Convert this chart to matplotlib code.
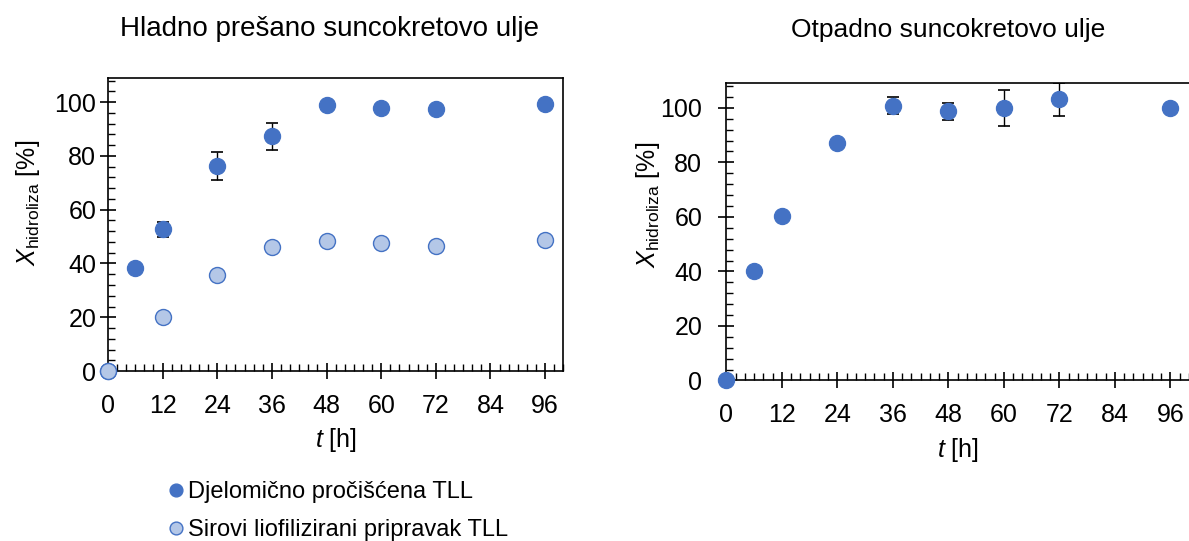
import numpy as np
import matplotlib.pyplot as plt
from matplotlib.ticker import MultipleLocator

plt.rcParams['font.family'] = ['Liberation Sans', 'DejaVu Sans']
plt.rcParams['mathtext.fontset'] = 'custom'
plt.rcParams['mathtext.rm'] = 'Liberation Sans'
plt.rcParams['mathtext.it'] = 'Liberation Sans:italic'

#%% podaci
t_lijevo = [0, 6, 12, 24, 36, 48, 60, 72, 96]
djelomicno = [0, 38.5, 52.8, 76.2, 87.4, 98.8, 97.7, 97.6, 99.5]
djelomicno_err = [0, 0, 2.8, 5.1, 5.0, 0, 0, 0, 0]

t_sirovi = [0, 12, 24, 36, 48, 60, 72, 96]
sirovi = [0, 20.0, 35.6, 46.0, 48.3, 47.5, 46.4, 48.8]

t_desno = [0, 6, 12, 24, 36, 48, 60, 72, 96]
otpadno = [0, 40.2, 60.3, 87.0, 100.7, 98.8, 100.0, 103.1, 100.0]
otpadno_err = [0, 0, 0, 0, 3.1, 3.1, 6.5, 6.0, 0]

x_ticks = [0, 12, 24, 36, 48, 60, 72, 84, 96]
y_ticks = [0, 20, 40, 60, 80, 100]

tamna = '#4472C4'
svijetla = '#B4C7E7'

fig = plt.figure(figsize=(11.89, 5.41), dpi=100)
ax1 = fig.add_axes([0.0908, 0.3142, 0.3830, 0.5416])
ax2 = fig.add_axes([0.6110, 0.2967, 0.3890, 0.5494])


def uredi(ax, ypad, lab_x, lab_y):
    ax.set_xlim(0, 100)
    ax.set_ylim(0, 109)
    ax.set_xticks(x_ticks)
    ax.set_yticks(y_ticks)
    ax.xaxis.set_minor_locator(MultipleLocator(2))
    ax.yaxis.set_minor_locator(MultipleLocator(4))
    ax.tick_params(which='major', direction='inout', length=11, width=1.2,
                   labelsize=18, colors='black')
    ax.tick_params(which='minor', direction='in', length=5, width=1)
    ax.tick_params(axis='x', which='major', pad=11)
    ax.tick_params(axis='y', which='major', pad=ypad)
    for s in ax.spines.values():
        s.set_linewidth(1.2)
    ax.set_xlabel('$t$ [h]', fontsize=18, labelpad=6)
    ax.set_ylabel(r'$\mathit{X}_{\mathrm{hidroliza}}$ [%]', fontsize=18)
    ax.yaxis.set_label_coords(lab_x, lab_y)


#%% lijevi graf
uredi(ax1, 3, -0.145, 0.573)
ax1.errorbar(t_lijevo, djelomicno, yerr=djelomicno_err, fmt='none', ecolor='black',
             elinewidth=1, capsize=4, capthick=1.2, zorder=2)
ax1.plot(t_lijevo, djelomicno, 'o', color=tamna, markersize=11.5, linestyle='none',
         clip_on=False, zorder=3, label='Djelomično pročišćena TLL')
ax1.plot(t_sirovi, sirovi, 'o', markerfacecolor=svijetla, markeredgecolor=tamna,
         markeredgewidth=1, markersize=11.5, linestyle='none', clip_on=False, zorder=4,
         label='Sirovi liofilizirani pripravak TLL')
fig.text(330 / 1189, 1 - 29 / 541, 'Hladno prešano suncokretovo ulje', fontsize=20,
         ha='center', va='center')

#%% desni graf
uredi(ax2, 12, -0.139, 0.59)
ax2.spines['right'].set_visible(False)
ax2.errorbar(t_desno, otpadno, yerr=otpadno_err, fmt='none', ecolor='black',
             elinewidth=1, capsize=4, capthick=1.2, zorder=2)
ax2.plot(t_desno, otpadno, 'o', color=tamna, markersize=11.5, linestyle='none',
         clip_on=False, zorder=3)
fig.text(948 / 1189, 1 - 30 / 541, 'Otpadno suncokretovo ulje', fontsize=19,
         ha='center', va='center')

h, l = ax1.get_legend_handles_labels()
fig.legend(h, l, loc='upper left', bbox_to_anchor=(0.128, 0.132), frameon=False,
           fontsize=17, handletextpad=0.0, labelspacing=0.68, handlelength=1.0,
           borderpad=0, markerscale=0.8)

fig.savefig('out.png', dpi=100)
